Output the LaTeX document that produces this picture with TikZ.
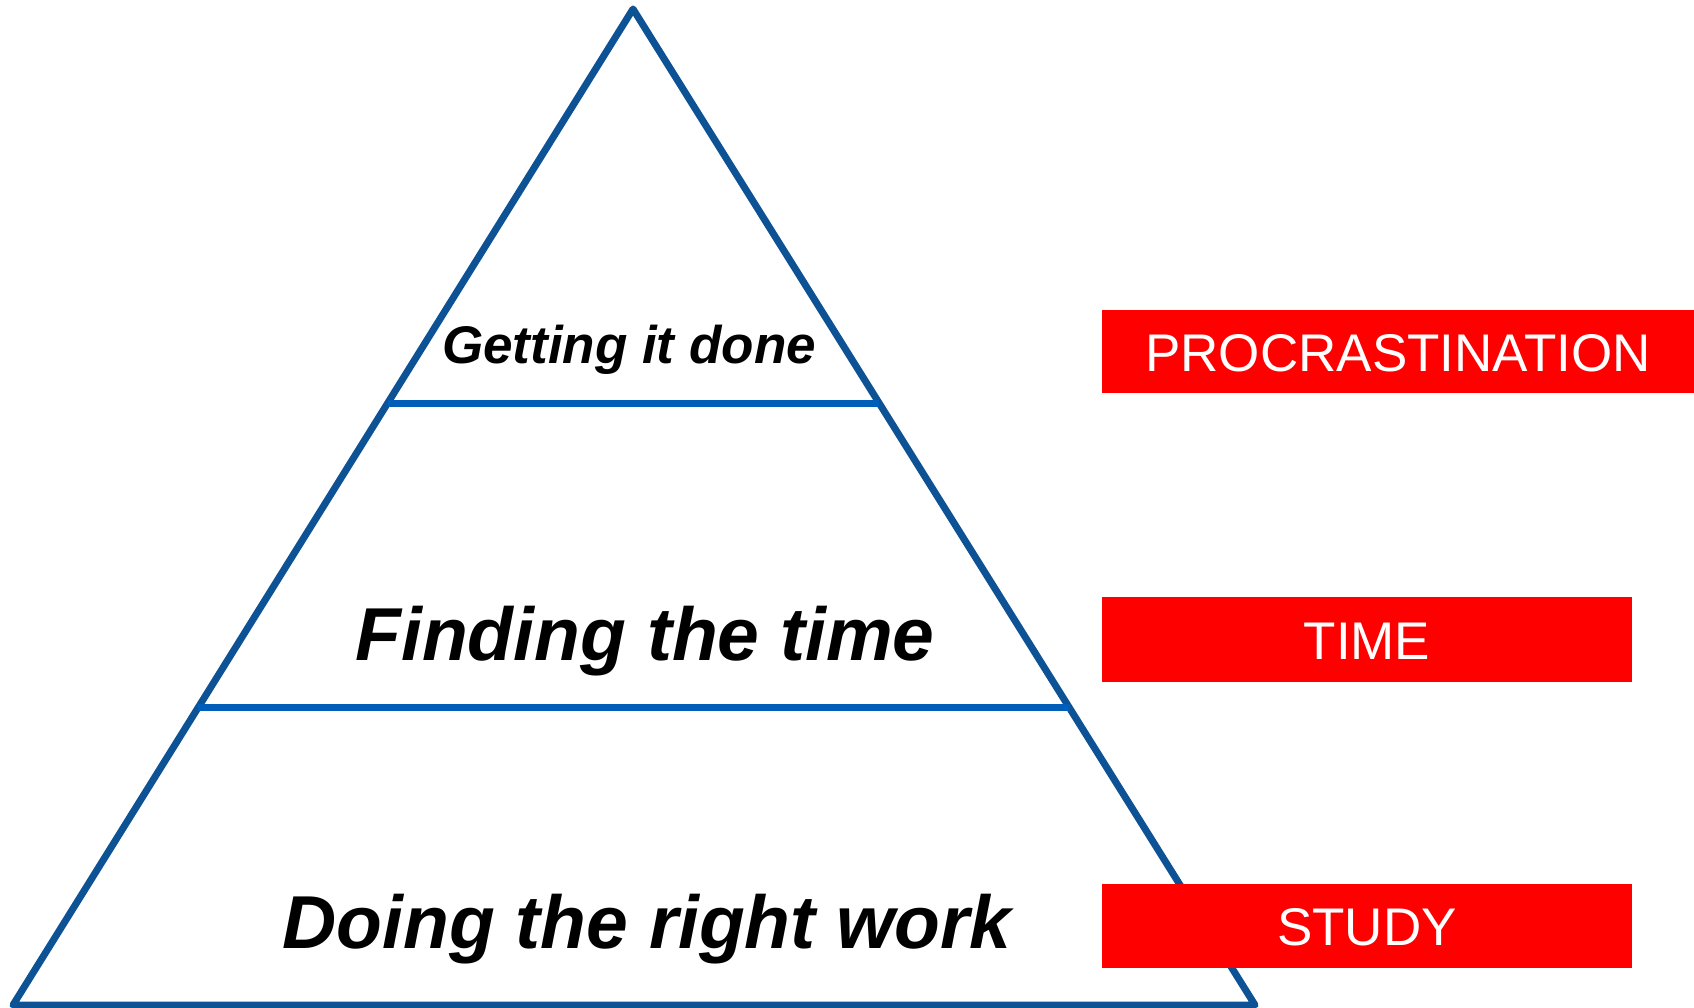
\documentclass[tikz,border=0pt]{standalone}
\usepackage{fontspec}
\setmainfont{Liberation Sans}
\usetikzlibrary{calc}
\definecolor{edgeblue}{RGB}{14,82,150}
\definecolor{tierblue}{RGB}{0,94,184}
\definecolor{tagred}{RGB}{255,0,0}
\tikzset{
  edge/.style={draw=edgeblue, line width=7pt, line join=round, line cap=round},
  tier/.style={draw=tierblue, line width=7pt},
  label/.style={text=black, inner sep=0pt, anchor=base},
  tag/.style={text=white, inner sep=0pt, anchor=base, font=\fontsize{53}{60}\selectfont}
}
\begin{document}
\begin{tikzpicture}[x=1pt, y=-1pt]
\useasboundingbox (0,0) rectangle (1694,1008);
% pyramid outline
\coordinate (apex) at (633,9);
\coordinate (bl) at (13,1005);
\coordinate (br) at (1255,1005);
\draw[edge] (apex) -- (bl) -- (br) -- cycle;
% tier dividers
\coordinate (t1l) at ($(apex)!0.3956!(bl)$);
\coordinate (t1r) at ($(apex)!0.3956!(br)$);
\coordinate (t2l) at ($(apex)!0.7018!(bl)$);
\coordinate (t2r) at ($(apex)!0.7018!(br)$);
\draw[tier] (t1l) -- (t1r);
\draw[tier] (t2l) -- (t2r);
% tier labels
\node[label, font=\fontsize{53}{60}\selectfont\bfseries\itshape] (top) at (629,363) {Getting it done};
\node[label, font=\fontsize{75}{85}\selectfont\bfseries\itshape] (mid) at (645,660) {Finding the time};
\node[label, font=\fontsize{75}{85}\selectfont\bfseries\itshape] (low) at (647,948) {Doing the right work};
% red tags, drawn over the pyramid edge
\path[fill=tagred] (1102,310) rectangle (1694,393);
\path[fill=tagred] (1102,597) rectangle (1632,682);
\path[fill=tagred] (1102,884) rectangle (1632,968);
\node[tag] (procr) at (1398,371) {PROCRASTINATION};
\node[tag] (time) at (1367,659) {TIME};
\node[tag] (study) at (1367,945) {STUDY};
\end{tikzpicture}
\end{document}
